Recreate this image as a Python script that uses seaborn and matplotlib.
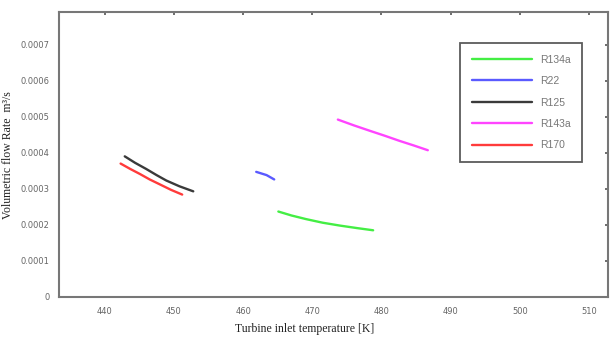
import matplotlib
matplotlib.use("Agg")
import matplotlib.pyplot as plt
import seaborn as sns
import pandas as pd
from matplotlib.ticker import FixedLocator, FuncFormatter

# Data
r134a_T = [465.1, 467.0, 469.1, 471.5, 474.0, 476.5, 478.8]
r134a_V = [2.37e-4, 2.26e-4, 2.16e-4, 2.06e-4, 1.98e-4, 1.91e-4, 1.85e-4]
r22_T = [461.9, 463.4, 464.5]
r22_V = [3.47e-4, 3.38e-4, 3.26e-4]
r125_T = [442.9, 444.4, 446.0, 447.5, 448.9, 450.8, 452.8]
r125_V = [3.90e-4, 3.72e-4, 3.55e-4, 3.38e-4, 3.23e-4, 3.07e-4, 2.93e-4]
r143a_T = [473.7, 476.0, 478.3, 480.5, 482.6, 484.7, 486.7]
r143a_V = [4.92e-4, 4.76e-4, 4.61e-4, 4.47e-4, 4.33e-4, 4.20e-4, 4.07e-4]
r170_T = [442.3, 443.7, 445.1, 446.5, 448.0, 449.6, 451.2]
r170_V = [3.70e-4, 3.55e-4, 3.41e-4, 3.26e-4, 3.12e-4, 2.97e-4, 2.84e-4]

series = ["R134a", "R22", "R125", "R143a", "R170"]
temps = [r134a_T, r22_T, r125_T, r143a_T, r170_T]
vols = [r134a_V, r22_V, r125_V, r143a_V, r170_V]
colors = ["#44ee44", "#5a5aff", "#3a3a3a", "#ff44ff", "#ff3b3b"]

x_ticks = [440, 450, 460, 470, 480, 490, 500, 510]
y_ticks = [0, 0.0001, 0.0002, 0.0003, 0.0004, 0.0005, 0.0006, 0.0007]

rows = []
for name, T, V in zip(series, temps, vols):
    for t, v in zip(T, V):
        rows.append({"fluid": name, "T": t, "V": v})
df = pd.DataFrame(rows)

sns.set_style("white")
fig = plt.figure(figsize=(6.11, 3.42), dpi=100)
ax = fig.add_axes([0.0966, 0.1316, 0.898, 0.833])

sns.lineplot(data=df, x="T", y="V", hue="fluid", hue_order=series,
             palette=dict(zip(series, colors)), linewidth=1.7, ax=ax,
             sort=True, estimator=None)

ax.set_xlim(433.4, 512.7)
ax.set_ylim(0, 0.00079)
ax.xaxis.set_major_locator(FixedLocator(x_ticks))
ax.yaxis.set_major_locator(FixedLocator(y_ticks))
ax.yaxis.set_major_formatter(FuncFormatter(lambda v, p: "0" if abs(v) < 1e-12 else f"{v:.4f}"))
ax.tick_params(axis="both", direction="in", length=2.5, width=1.2, color="#555555",
               labelsize=6, labelcolor="#666666", top=True, right=True, pad=7)
for s in ax.spines.values():
    s.set_color("#777777")
    s.set_linewidth(1.5)

ax.set_xlabel("Turbine inlet temperature [K]", fontsize=8.5, family="Liberation Serif",
              color="#222222")
ax.set_ylabel("Volumetric flow Rate  m³/s", fontsize=8.5, family="Liberation Serif",
              color="#222222")
ax.xaxis.set_label_coords((305 - 59) / 548.7, -(323 - 297) / 285)
ax.yaxis.set_label_coords(-(59 - 14) / 548.7, (297 - 155) / 285)

leg = ax.legend(title=None, loc="upper right", bbox_to_anchor=(0.953, 0.891),
                frameon=True, fancybox=False, fontsize=7.5, handlelength=5.8,
                handletextpad=0.75, labelspacing=1.1, borderpad=1.1,
                borderaxespad=0)
leg.get_frame().set_edgecolor("#333333")
leg.get_frame().set_linewidth(1.3)
for t in leg.get_texts():
    t.set_color("#777777")
    t.set_family("Liberation Sans")
for l in leg.get_lines():
    l.set_linewidth(1.7)

fig.savefig("out.png", dpi=100)
